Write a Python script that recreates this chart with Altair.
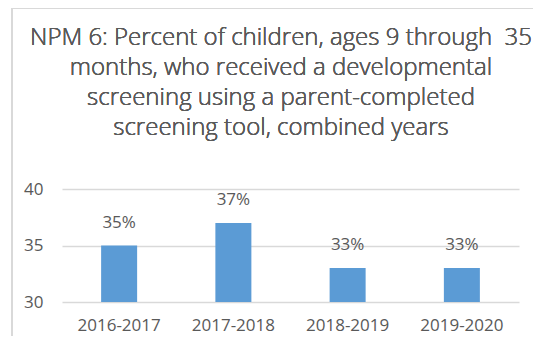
import altair as alt
import pandas as pd

periods = ["2016-2017", "2017-2018", "2018-2019", "2019-2020"]
percents = [35, 37, 33, 33]
title_lines = [
    "NPM 6: Percent of children, ages 9 through\u00a0 35",
    "months, who received a developmental",
    "screening using a parent-completed",
    "screening tool, combined years",
]
y_ticks = [30, 35, 40]

df = pd.DataFrame({"period": periods, "pct": percents})
df["label"] = [f"{v}%" for v in percents]

FONT = "Open Sans"
GRAY = "#595959"
W, H = 457, 113

x = alt.X("period:N", sort=periods, title=None,
          scale=alt.Scale(paddingInner=0, paddingOuter=0),
          axis=alt.Axis(labelAngle=0, domain=False, ticks=False, labelPadding=15,
                        labelFontSize=17, labelColor=GRAY, labelFont=FONT))
y = alt.Y("pct:Q", title=None,
          scale=alt.Scale(domain=[30, 40], zero=False, nice=False),
          axis=alt.Axis(values=y_ticks, domain=False, ticks=False, labelPadding=19,
                        labelFontSize=17, labelColor=GRAY, labelFont=FONT,
                        gridColor="#D9D9D9", gridWidth=1.3))

base = alt.Chart(df)
bars = base.mark_bar(size=36, color="#5B9BD5").encode(x=x, y=y, y2=alt.datum(30))
labels = base.mark_text(dy=-18, baseline="alphabetic", fontSize=17, color=GRAY,
                        font=FONT).encode(x=x, y=y, text="label:N")

title = alt.Chart(df).mark_text(
    fontSize=24, font=FONT, fontWeight=300, color="#5a5a5a", lineHeight=30,
    baseline="alphabetic", align="center").encode(
    x=alt.value(219), y=alt.value(-144), text=alt.value(title_lines))

border_left = alt.Chart(df).mark_rule(color="#D9D9D9", strokeWidth=1.5).encode(
    x=alt.value(-50), y=alt.value(-181), y2=alt.value(H + 40))
border_top = alt.Chart(df).mark_rule(color="#D9D9D9", strokeWidth=1.5).encode(
    x=alt.value(-50), x2=alt.value(W + 30), y=alt.value(-181))

chart = alt.layer(bars, labels, title, border_left, border_top).properties(
    width=W, height=H,
    padding={"left": 54, "top": 181, "right": 14, "bottom": 34},
    autosize=alt.AutoSizeParams(type="none"),
).configure_view(stroke=None)

chart.save("out.html", embed_options={"renderer": "svg", "actions": False})
